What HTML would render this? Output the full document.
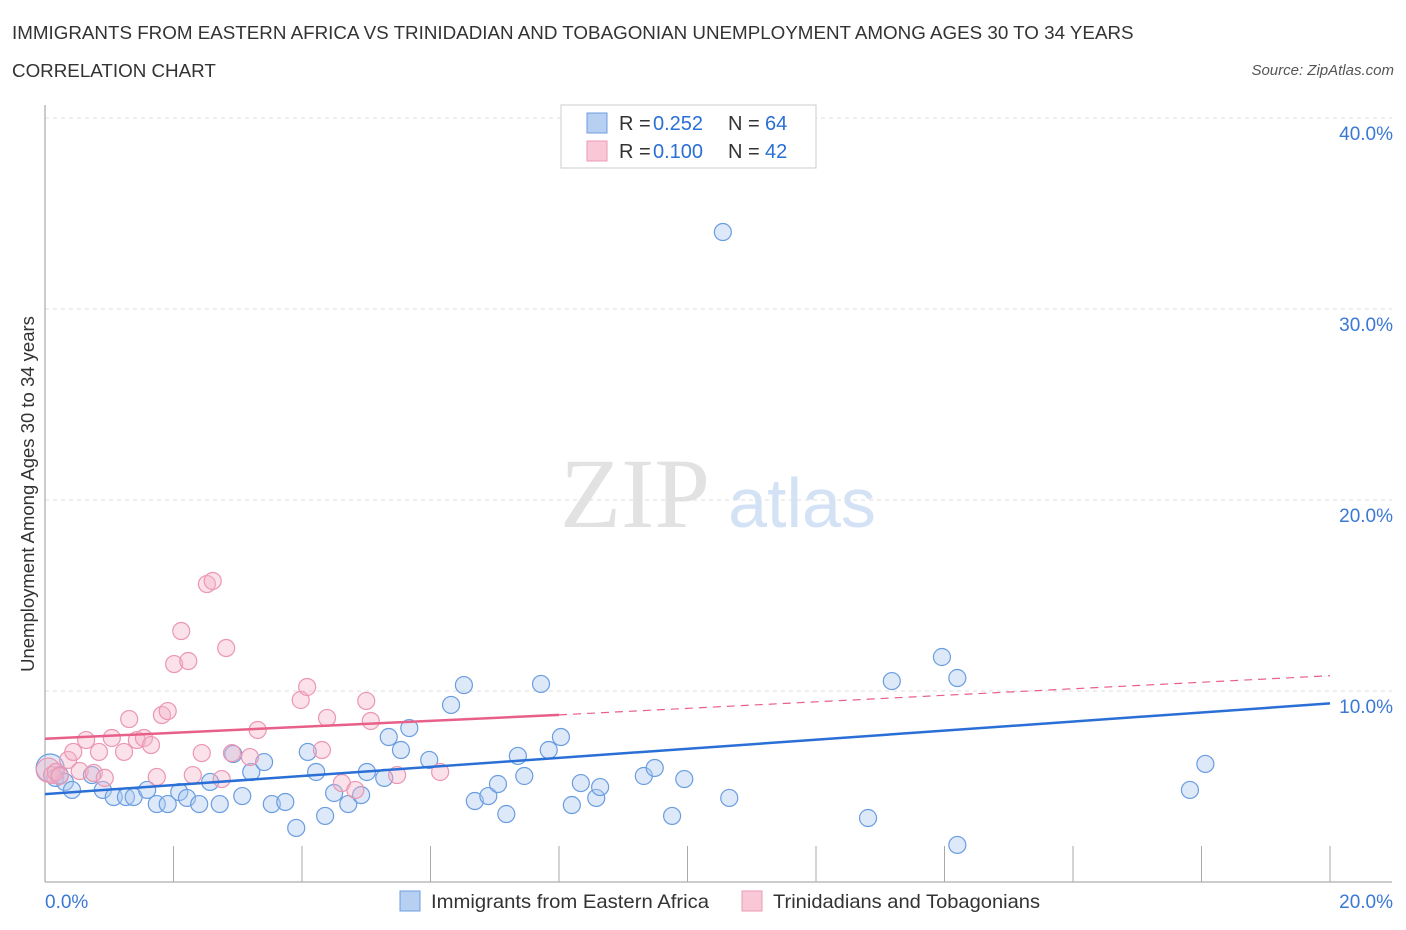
<!DOCTYPE html>
<html><head><meta charset="utf-8"><style>
body{margin:0;background:#fff;font-family:"Liberation Sans",sans-serif}
#wrap{position:relative;width:1406px;height:930px;overflow:hidden}
.t{position:absolute;white-space:nowrap}
</style></head><body>
<div id="wrap">
<div class="t" style="left:12px;top:22px;font-size:18.8px;color:#333">IMMIGRANTS FROM EASTERN AFRICA VS TRINIDADIAN AND TOBAGONIAN UNEMPLOYMENT AMONG AGES 30 TO 34 YEARS</div>
<div class="t" style="left:12px;top:60px;font-size:18.8px;color:#333">CORRELATION CHART</div>
<div class="t" style="right:12px;top:62px;font-size:15px;color:#555;font-style:italic">Source: ZipAtlas.com</div>
<svg id="svg" width="1406" height="930" style="position:absolute;left:0;top:0"></svg>
</div>
<script>
const xTicks=[0,20];
const yTicks=[10,20,30,40];
const blueXs=[0.08,0.16,0.23,0.31,0.42,0.73,0.90,1.07,1.26,1.38,1.59,1.74,1.91,2.09,2.21,2.40,2.57,2.72,2.93,3.07,3.21,3.41,3.53,3.74,3.91,4.09,4.22,4.36,4.50,4.72,4.92,5.01,5.28,5.35,5.54,5.67,5.98,6.32,6.52,6.69,6.90,7.05,7.18,7.36,7.46,7.72,7.84,8.03,8.20,8.34,8.58,8.64,9.32,9.49,9.76,9.95,10.55,10.65,12.81,13.18,13.96,14.20,14.20,17.82,18.06];
const blueYs=[5.97,5.45,5.60,5.24,4.82,5.60,4.82,4.45,4.45,4.45,4.82,4.08,4.08,4.71,4.40,4.08,5.24,4.08,6.70,4.50,5.76,6.28,4.08,4.19,2.83,6.81,5.76,3.46,4.66,4.08,4.55,5.76,5.45,7.59,6.91,8.06,6.39,9.27,10.31,4.24,4.50,5.13,3.56,6.60,5.55,10.37,6.91,7.59,4.03,5.18,4.40,4.97,5.55,5.97,3.46,5.39,34.03,4.40,3.35,10.52,11.78,10.68,1.94,4.82,6.18];
const pinkXs=[0.05,0.11,0.17,0.23,0.36,0.44,0.54,0.64,0.76,0.84,0.93,1.04,1.23,1.31,1.43,1.54,1.65,1.74,1.82,1.91,2.01,2.12,2.23,2.30,2.44,2.52,2.61,2.75,2.82,2.91,3.19,3.31,3.98,4.08,4.31,4.39,4.62,4.83,5.00,5.07,5.48,6.15];
const pinkYs=[5.86,5.60,5.76,5.55,6.39,6.81,5.81,7.43,5.71,6.81,5.45,7.54,6.81,8.53,7.43,7.54,7.17,5.50,8.74,8.95,11.41,13.14,11.57,5.60,6.75,15.60,15.76,5.39,12.25,6.75,6.54,7.96,9.53,10.21,6.91,8.59,5.18,4.82,9.48,8.43,5.60,5.76];
const blueTrend=[4.6,9.35];
const pinkTrend=[7.5,8.75,10.8];
</script>
<script>
const svg=document.getElementById('svg');const NS='http://www.w3.org/2000/svg';
const X0=45,X1=1330,Y0=882,PPY=19.1;
const sx=v=>X0+(v/20)*(X1-X0);const sy=v=>Y0-v*PPY;
function mk(tag,at,parent){const e=document.createElementNS(NS,tag);for(const k in at)e.setAttribute(k,at[k]);(parent||svg).appendChild(e);return e;}
let wm=mk('text',{x:635,y:527,'font-size':100,'font-family':'Liberation Serif,serif',fill:'#e2e2e2','text-anchor':'middle'});wm.textContent='ZIP';


let wm2=mk('text',{x:802,y:527,'font-size':70,'font-family':'Liberation Sans,sans-serif',fill:'#d3e2f5','text-anchor':'middle'});wm2.textContent='atlas';


yTicks.forEach(v=>{const g=mk('line',{x1:X0,x2:1392,y1:sy(v),y2:sy(v),stroke:'#ddd','stroke-dasharray':'4,4'});


const t=mk('text',{x:1393,y:sy(v)+22,'font-size':19,fill:'#3a78d4','text-anchor':'end'});t.textContent=v.toFixed(1)+'%';

});
const ax=mk('line',{x1:X0,x2:X0,y1:105,y2:Y0,stroke:'#999'});


const bx=mk('line',{x1:X0,x2:1392,y1:Y0,y2:Y0,stroke:'#999'});


for(let i=1;i<=10;i++){const tk=mk('line',{x1:sx(i*2),x2:sx(i*2),y1:Y0-36,y2:Y0,stroke:'#aaa'});

}
xTicks.forEach(v=>{const t=mk('text',{x:v==0?45:1393,y:908,'font-size':19,fill:'#3a78d4','text-anchor':v==0?'start':'end'});t.textContent=v.toFixed(1)+'%';

});
const yl=mk('text',{x:34,y:494,'font-size':18.5,fill:'#333','text-anchor':'middle',transform:'rotate(-90 34 494)'});yl.textContent='Unemployment Among Ages 30 to 34 years';


blueXs.forEach((v,i)=>{const c=mk('circle',{cx:sx(v),cy:sy(blueYs[i]),r:i==0?14:8.5,fill:'rgba(170,200,240,0.4)',stroke:'#6a9de0','stroke-width':1.2});

});
pinkXs.forEach((v,i)=>{const c=mk('circle',{cx:sx(v),cy:sy(pinkYs[i]),r:i==0?12:8.5,fill:'rgba(245,180,200,0.4)',stroke:'#eb96b2','stroke-width':1.2});

});
const bl=mk('line',{x1:sx(0),y1:sy(blueTrend[0]),x2:sx(20),y2:sy(blueTrend[1]),stroke:'#2a6fd6','stroke-width':2.5});


const pl=mk('line',{x1:sx(0),y1:sy(pinkTrend[0]),x2:sx(8),y2:sy(pinkTrend[1]),stroke:'#e8608a','stroke-width':2.5});


const pd=mk('line',{x1:sx(8),y1:sy(pinkTrend[1]),x2:sx(20),y2:sy(pinkTrend[2]),stroke:'#e8608a','stroke-width':1.2,'stroke-dasharray':'8,6'});


const lb=mk('rect',{x:561,y:105,width:255,height:63,fill:'#fff',stroke:'#ccc'});


[['#b7d0f2','#6d9de0','0.252','64',123],['#f8c8d6','#eb9ab4','0.100','42',151]].forEach(r=>{
const s=mk('rect',{x:587,y:r[4]-10,width:20,height:20,fill:r[0],stroke:r[1]});


const t1=mk('text',{x:619,y:r[4]+7,'font-size':20,fill:'#333'});t1.textContent='R =';


const t2=mk('text',{x:653,y:r[4]+7,'font-size':20,fill:'#2a6fd6'});t2.textContent=r[2];


const t3=mk('text',{x:728,y:r[4]+7,'font-size':20,fill:'#333'});t3.textContent='N =';


const t4=mk('text',{x:765,y:r[4]+7,'font-size':20,fill:'#2a6fd6'});t4.textContent=r[3];

});
[['#b7d0f2','#6d9de0','Immigrants from Eastern Africa',400,709],['#f8c8d6','#eb9ab4','Trinidadians and Tobagonians',742,1040]].forEach(r=>{
const s=mk('rect',{x:r[3],y:891,width:20,height:20,fill:r[0],stroke:r[1]});


const t=mk('text',{x:r[3]+31,y:908,'font-size':19.5,fill:'#333',textLength:r[4]-r[3]-31,lengthAdjust:'spacingAndGlyphs'});t.textContent=r[2];

});
</script>
</body></html>
